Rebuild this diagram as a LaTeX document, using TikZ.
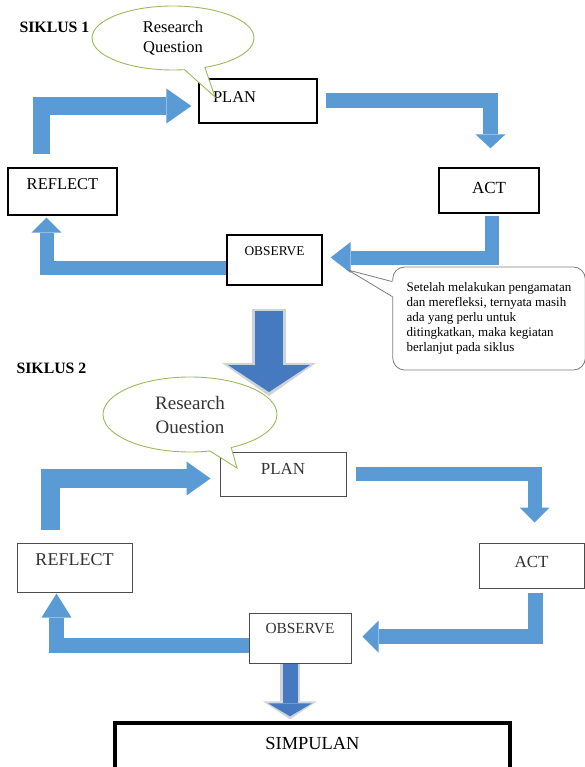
\documentclass[tikz,border=0pt]{standalone}
\usepackage{fontspec}
\setmainfont{Liberation Serif}
\usetikzlibrary{arrows.meta,shapes.geometric,shapes.callouts}
\definecolor{flowblue}{RGB}{91,155,213}
\definecolor{downblue}{RGB}{70,122,192}
\definecolor{shadegray}{RGB}{206,211,218}
\definecolor{bubblegreen}{RGB}{155,187,89}
\definecolor{notegray}{RGB}{125,125,125}
\tikzset{
  stage/.style={draw=black, line width=1.3pt, fill=white, inner sep=0pt, align=center},
  stagetwo/.style={draw=black!70, line width=1pt, fill=white, inner sep=0pt, align=center, text=black!80},
  flow/.style args={#1/#2/#3}{draw=flowblue, line width=#1, line join=miter,
    -{Triangle[length=#2, width=#3, line width=0pt]}},
  bigflow/.style={draw=downblue, line join=miter},
  bubble/.style={ellipse callout, draw=bubblegreen, line width=0.9pt, fill=white, inner sep=0pt, align=center},
  note/.style={rectangle, draw=notegray, line width=0.8pt, fill=white, rounded corners=12pt, align=left},
  heading/.style={font=\bfseries\fontsize{15.8}{20}\selectfont, anchor=west}
}
\begin{document}
\begin{tikzpicture}[x=1pt, y=-1pt]
\clip (0,0) rectangle (585,767);
% siklus 1
\node[stage, font=\fontsize{16.5}{20}\selectfont, minimum width=118pt, minimum height=44pt, text width=90pt, align=left, text depth=8pt] (plan1) at (258,101) {PLAN};
\node[stage, font=\fontsize{17}{20}\selectfont, minimum width=100pt, minimum height=45pt, text depth=5pt] (act1) at (489,190.5) {ACT};
\node[stage, font=\fontsize{16.5}{20}\selectfont, minimum width=109pt, minimum height=47pt, text depth=15pt] (reflect1) at (62.5,191.5) {REFLECT};
\node[stage, font=\fontsize{13.4}{16}\selectfont, minimum width=95pt, minimum height=50pt, text depth=18pt] (observe1) at (274.5,260) {OBSERVE};
\coordinate (ask1) at (215,97);
\node[bubble, font=\fontsize{16.5}{20}\selectfont, minimum width=162pt, minimum height=64pt, callout absolute pointer={(ask1)}] (question1) at (173,38) {Research\\Question};
\node[heading] (siklus1) at (16,27) {SIKLUS 1};
\node[note, font=\fontsize{13}{15}\selectfont, minimum width=188pt, minimum height=103pt, inner xsep=14pt] (remark) at (489,318.5)
  {Setelah melakukan pengamatan\\dan merefleksi, ternyata masih\\ada yang perlu untuk\\ditingkatkan, maka kegiatan\\berlanjut pada siklus};
\coordinate (hint) at (348,270);
% siklus 2
\node[heading] (siklus2) at (13,368) {SIKLUS 2};
\node[stagetwo, font=\fontsize{16.9}{20}\selectfont, minimum width=126pt, minimum height=44pt, text depth=10pt] (plan2) at (283,474) {PLAN};
\node[stagetwo, font=\fontsize{17}{20}\selectfont, minimum width=105pt, minimum height=45pt, text depth=7pt] (act2) at (531.5,565.5) {ACT};
\node[stagetwo, font=\fontsize{18}{20}\selectfont, minimum width=115pt, minimum height=49pt, text depth=15pt] (reflect2) at (74.5,567.5) {REFLECT};
\node[stagetwo, font=\fontsize{15.4}{18}\selectfont, minimum width=102pt, minimum height=50pt, text depth=20pt] (observe2) at (300,638) {OBSERVE};
\node[draw=black, line width=3.5pt, fill=white, inner sep=0pt, font=\fontsize{18.4}{22}\selectfont, minimum width=395pt, minimum height=90pt, text depth=50pt] (simpulan) at (312.5,768) {SIMPULAN};
\coordinate (ask2) at (237,468);
\node[bubble, font=\fontsize{19}{24}\selectfont, text=black!80, minimum width=174pt, minimum height=75pt, callout absolute pointer={(ask2)}] (question2) at (190,414.5) {Research\\Ouestion};
% cycle arrows
\draw[flow=17.5pt/25pt/35pt, shorten <=13pt, shorten >=7pt] ([xshift=-21pt]reflect1.north) |- ([yshift=-5pt]plan1.west);
\draw[flow=15pt/14pt/30pt, shorten <=8pt, shorten >=19pt] (plan1.east) -| ([xshift=1.5pt]act1.north);
\draw[flow=14pt/20pt/31pt, shorten <=2pt, shorten >=8pt] ([xshift=3pt]act1.south) |- ([yshift=2.5pt]observe1.east);
\draw[flow=14pt/15pt/30pt, shorten >=2pt] ([yshift=-7.5pt]observe1.west) -| ([xshift=-16pt]reflect1.south);
\draw[flow=19pt/24pt/34pt, shorten <=13pt, shorten >=9pt] ([xshift=-24pt]reflect2.north) |- ([yshift=-4.5pt]plan2.west);
\draw[flow=14pt/15pt/30pt, shorten <=9pt, shorten >=20pt] (plan2.east) -| ([xshift=3pt]act2.north);
\draw[flow=15pt/16pt/32pt, shorten <=4pt, shorten >=11pt] ([xshift=4pt]act2.south) |- ([yshift=1.5pt]observe2.east);
\draw[flow=15pt/24pt/30pt, shorten >=1pt] ([yshift=-7pt]observe2.west) -| ([xshift=-18pt]reflect2.south);
% tail of the remark
\path[fill=white] ([shift={(1.5pt,-15pt)}]remark.north west) -- (hint) -- ([shift={(1.5pt,-30pt)}]remark.north west) -- cycle;
\draw[notegray, line width=0.8pt] ([yshift=-15pt]remark.north west) -- (hint) -- ([yshift=-30pt]remark.north west);
% down arrows
\coordinate (into2) at (269,392);
\draw[bigflow, line width=28pt, shorten <=25pt, -{Triangle[length=27pt, width=82pt, line width=0pt]},
  preaction={draw=shadegray, line width=34pt, shorten <=23pt, shorten >=-4pt, -{Triangle[length=33pt, width=94pt, line width=0pt]}}]
  ([xshift=-5.5pt]observe1.south) -- (into2);
\coordinate (foot2) at ([xshift=-10pt]observe2.south);
\draw[bigflow, line width=15pt, shorten >=5pt, -{Triangle[length=13pt, width=44pt, line width=0pt]},
  preaction={draw=shadegray, line width=20pt, shorten >=2pt, -{Triangle[length=18pt, width=54pt, line width=0pt]}}]
  (foot2) -- (foot2 |- simpulan.north);
\end{tikzpicture}
\end{document}
